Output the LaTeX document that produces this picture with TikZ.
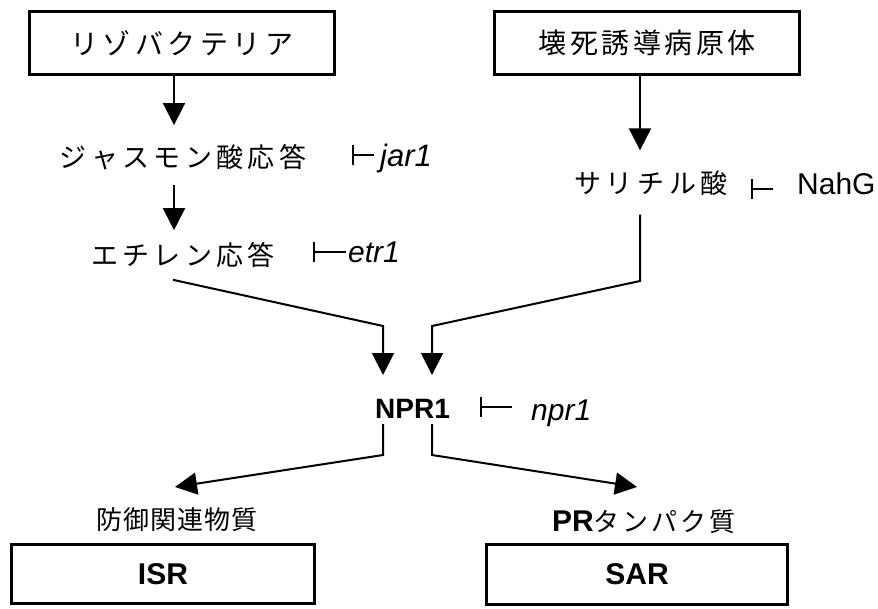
\documentclass[tikz,border=0pt]{standalone}
\usepackage{fontspec}
\setmainfont{Liberation Sans}
\newfontfamily\jp{Noto Sans CJK JP}
\usetikzlibrary{arrows.meta,calc}
\newcommand\spc[2]{\def\spk{#1}\spcA#2\relax}
\def\spcA#1{#1\spcB}
\def\spcB#1{\ifx#1\relax\else\kern\spk#1\expandafter\spcB\fi}
\tikzset{
  box/.style={draw, line width=3pt, inner sep=0pt},
  jtxt/.style={inner sep=0pt, font=\jp\fontsize{27}{27}\selectfont},
  ltxt/.style={inner sep=0pt, anchor=base west, font=\fontsize{30}{30}\selectfont\itshape},
  arr/.style={line width=2pt, -{Triangle[width=22pt,length=22pt]}},
  conn/.style={line width=2pt},
  inh/.style={line width=1.5pt, {Bar[width=20pt]}-},
}
\begin{document}
\begin{tikzpicture}[x=1pt,y=-1pt]
\useasboundingbox (0,0) rectangle (878,608);
% boxes
\node[box, minimum width=305pt, minimum height=63pt, font=\jp\fontsize{28}{28}\selectfont] (rhizo) at (182,43) {\spc{4.5pt}{リゾバクテリア}};
\node[box, minimum width=305pt, minimum height=63pt, font=\jp\fontsize{28}{28}\selectfont] (patho) at (647,43) {\spc{3.5pt}{壊死誘導病原体}};
\node[box, minimum width=303pt, minimum height=59pt, font=\bfseries\fontsize{30}{30}\selectfont] (isr) at (163,574) {ISR};
\node[box, minimum width=301pt, minimum height=60pt, font=\bfseries\fontsize{30}{30}\selectfont] (sar) at (637,574.5) {SAR};
% text nodes
\node[jtxt] (jas) at (183,157) {\spc{4.3pt}{ジャスモン酸応答}};
\node[jtxt] (eth) at (183,255) {\spc{4.2pt}{エチレン応答}};
\node[jtxt] (sal) at (651,183) {\spc{4.5pt}{サリチル酸}};
\node[inner sep=0pt, anchor=base west, font=\bfseries\fontsize{28}{28}\selectfont] (npr) at (375,418) {NPR1};
\node[jtxt, font=\jp\fontsize{26}{26}\selectfont] (def) at (177,520) {\spc{1pt}{防御関連物質}};
\node[inner sep=0pt, font=\fontsize{26}{26}\selectfont] (pr) at (644,522) {\textbf{\fontsize{30}{30}\selectfont PR}{\jp\spc{3pt}{タンパク質}}};
% mutant labels
\node[ltxt, font=\fontsize{31}{31}\selectfont\itshape] (jar) at (380,166) {jar1};
\node[ltxt] (etr) at (348,262) {etr1};
\node[ltxt, font=\fontsize{30}{30}\selectfont] (nahg) at (797,194) {NahG};
\node[ltxt] (nprm) at (531,420) {npr1};
% inhibition bars
\coordinate (jb) at (352,155);
\coordinate (eb) at (313,252);
\coordinate (nb) at (751,189);
\coordinate (pb) at (480,407);
\draw[inh] (jb) -- ($(jar.west |- jb)+(-6,0)$);
\draw[inh] (eb) -- ($(etr.west |- eb)+(-2,0)$);
\draw[inh] (nb) -- (773,189) coordinate (ne);
\draw[inh] (pb) -- (512,407) coordinate (pe);
% arrows down
\draw[arr] ($(rhizo.south)+(-8,0)$) -- ($(jas.north)+(-9,-19)$);
\draw[arr] ($(jas.south)+(-9,15)$) -- ($(eth.north)+(-9,-12)$);
\draw[arr] ($(patho.south)+(-7,0)$) -- ($(sal.north)+(-11,-20)$);
% to NPR1
\coordinate (l1) at (383,326);
\coordinate (l2a) at (640,281);
\coordinate (l2) at (432,326);
\draw[arr] ($(eth.south)+(-10,12)$) -- (l1) -- (l1 |- 0,375) coordinate (t1);
\draw[arr] ($(sal.south)+(-11,19)$) -- (l2a) -- (l2) -- (l2 |- 0,375) coordinate (t2);
% from NPR1
\coordinate (o1) at (383,455);
\coordinate (o2) at (432,455);
\draw[arr] (npr.south -| o1) ++(0,6) -- (o1) -- (175,487) coordinate (d1);
\draw[arr] (npr.south -| o2) ++(0,6) -- (o2) -- (637,487) coordinate (d2);
\end{tikzpicture}
\end{document}
